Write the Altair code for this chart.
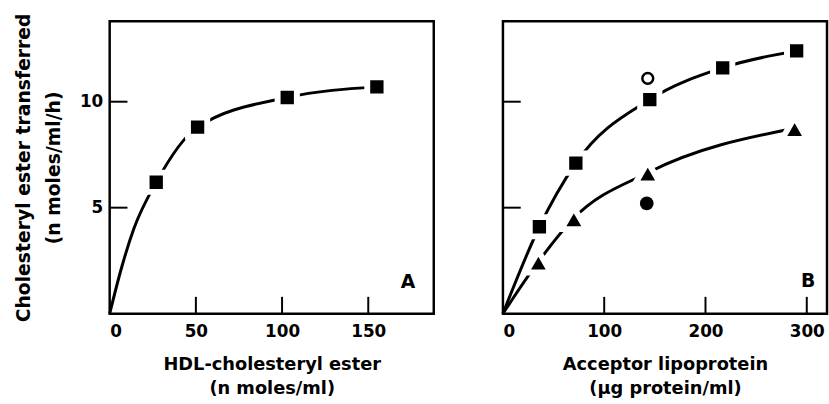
import altair as alt
import pandas as pd

FONT = "DejaVu Sans"
W, H = 328, 296

# Panel A: HDL-cholesteryl ester vs rate
a_hdl = [27, 51, 103, 155]
a_rate = [6.2, 8.8, 10.2, 10.7]
a_curve_hdl = [0, 7, 14, 27, 51, 103, 155]
a_curve_rate = [0, 2.2, 4.0, 6.2, 8.8, 10.2, 10.7]

# Panel B: acceptor lipoprotein
b_sq_x = [36, 72, 145, 217, 290]
b_sq_y = [4.1, 7.1, 10.1, 11.6, 12.4]
b_tri_x = [35, 70, 143, 288]
b_tri_y = [2.45, 4.5, 6.65, 8.75]
b_sq_curve_x = [0, 36, 72, 145, 217, 290]
b_sq_curve_y = [0, 4.1, 7.1, 10.1, 11.6, 12.4]
b_tri_curve_x = [0, 35, 70, 143, 288]
b_tri_curve_y = [0, 2.45, 4.5, 6.65, 8.75]
b_open_x = [143]
b_open_y = [11.1]
b_fill_x = [142]
b_fill_y = [5.2]

a_xticks = [50, 100, 150]
a_xlabels = [0, 50, 100, 150]
b_xticks = [100, 200, 300]
b_xlabels = [0, 100, 200, 300]
yticks = [5, 10]

xa = alt.Scale(domain=[0, 188], nice=False)
xb = alt.Scale(domain=[0, 320], nice=False)
ys = alt.Scale(domain=[0, 13.8], nice=False)


def df(x, y):
    return pd.DataFrame({"x": x, "y": y})


def panel(xscale, xvals, xtitle, ytitle, showy, curves, squares, tris, xt, letter, lx, ly):
    xaxis = alt.Axis(values=xvals, title=xtitle, labelPadding=10, titlePadding=17,
                     format="d")
    if showy:
        yaxis = alt.Axis(values=yticks, title=ytitle, labelPadding=7, titlePadding=16,
                         titleFontSize=19, format="d")
    else:
        yaxis = alt.Axis(values=yticks, title=None, labels=False)
    X = lambda: alt.X("x:Q", scale=xscale, axis=xaxis)
    Y = lambda: alt.Y("y:Q", scale=ys, axis=yaxis)
    layers = []
    for c in curves:
        layers.append(alt.Chart(c).mark_line(color="black", strokeWidth=3,
                                             interpolate="monotone").encode(x=X(), y=Y()))
    for s in squares:
        layers.append(alt.Chart(s).mark_point(shape="square", filled=True, size=380,
                                              fill="black", stroke="white", strokeWidth=6,
                                              opacity=1).encode(x=X(), y=Y()))
    for t in tris:
        layers.append(alt.Chart(t).mark_point(shape="triangle-up", filled=True, size=640,
                                              fill="black", stroke="white", strokeWidth=6,
                                              opacity=1).encode(x=X(), y=Y()))
    # inward ticks
    layers.append(alt.Chart(pd.DataFrame({"x": xt})).mark_rule(color="black", strokeWidth=2).encode(
        x=X(), y=alt.value(H), y2=alt.value(H - 17)))
    layers.append(alt.Chart(pd.DataFrame({"y": yticks})).mark_rule(color="black", strokeWidth=2).encode(
        y=Y(), x=alt.value(0), x2=alt.value(18)))
    layers.append(alt.Chart(pd.DataFrame({"t": [letter]})).mark_text(
        font=FONT, fontSize=19, fontWeight="bold", color="black").encode(
        text="t:N", x=alt.value(lx), y=alt.value(ly)))
    return layers, X, Y


la, XA, YA = panel(xa, a_xlabels, ["HDL-cholesteryl ester", "(n moles/ml)"],
                   ["Cholesteryl ester transferred", "(n moles/ml/h)"], True,
                   [df(a_curve_hdl, a_curve_rate)], [df(a_hdl, a_rate)], [], a_xticks, "A", 302, 264)

lb, XB, YB = panel(xb, b_xlabels, ["Acceptor lipoprotein", "(μg protein/ml)"], None, False,
                   [df(b_sq_curve_x, b_sq_curve_y), df(b_tri_curve_x, b_tri_curve_y)],
                   [df(b_sq_x, b_sq_y)], [df(b_tri_x, b_tri_y)], b_xticks, "B", 309, 263)

lb.append(alt.Chart(df(b_open_x, b_open_y)).mark_point(shape="circle", filled=False, size=120,
                                                       stroke="black", strokeWidth=2.5, opacity=1).encode(
    x=XB(), y=YB()))
lb.append(alt.Chart(df(b_fill_x, b_fill_y)).mark_point(shape="circle", filled=True, size=190,
                                                       fill="black", opacity=1).encode(
    x=XB(), y=YB()))

pa = alt.layer(*la).properties(width=W, height=H)
pb = alt.layer(*lb).properties(width=W, height=H)

chart = alt.hconcat(pa, pb, spacing=60).properties(
    padding={"left": 14, "top": 9, "right": 0, "bottom": 0}, background="white"
).configure_view(stroke="black", strokeWidth=2.5).configure_axis(
    grid=False, ticks=False, tickSize=0, domain=False,
    labelFont=FONT, labelFontSize=17, labelFontWeight="bold", labelColor="black",
    titleFont=FONT, titleFontSize=18, titleFontWeight="bold", titleColor="black",
).configure_axisX(titleLineHeight=24).configure_axisY(titleLineHeight=30)

chart.save("out.html", embed_options={"renderer": "svg", "actions": False})
